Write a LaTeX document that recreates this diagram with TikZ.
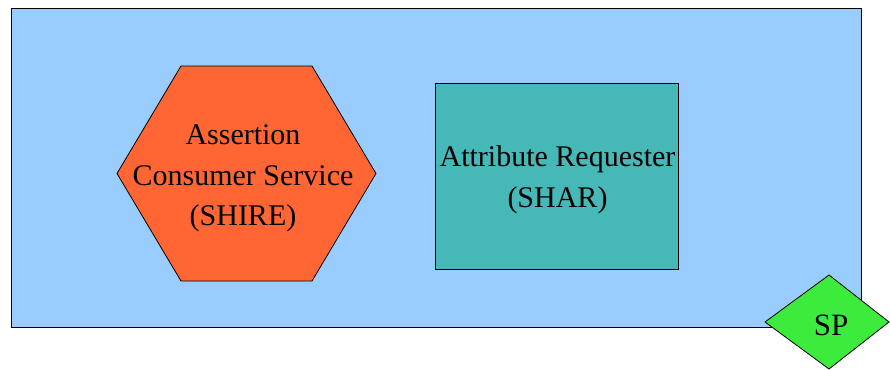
\documentclass[tikz,border=0pt]{standalone}
\usepackage{fontspec}
\setmainfont{Liberation Serif}
\usetikzlibrary{shapes.geometric}
\definecolor{bgblue}{HTML}{99CCFF}
\definecolor{hexorange}{HTML}{FF6633}
\definecolor{tealbox}{HTML}{47B8B8}
\definecolor{spgreen}{HTML}{3DEB3D}
\tikzset{
  outline/.style={draw=black, line width=0.8pt},
  lbl/.style={font=\fontsize{30}{40.5}\selectfont, align=center, inner sep=0pt},
}
\begin{document}
\begin{tikzpicture}[x=1pt, y=-1pt]
\useasboundingbox (0,0) rectangle (890,369);
\begin{scope}
\clip (0,0) rectangle (890,369);
% outer box
\node[outline, fill=bgblue, rectangle, anchor=north west, minimum width=850pt, minimum height=319pt, inner sep=0pt] (frame) at (11,8) {};
% hexagon
\draw[outline, fill=hexorange] (181,66) -- (312,66) -- (376,173.5) -- (312,281) -- (181,281) -- (117,173.5) -- cycle;
\node[lbl] (acs) at (243,178.5) {Assertion\\Consumer Service\\(SHIRE)};
% SHAR box
\node[outline, fill=tealbox, rectangle, minimum width=243pt, minimum height=186pt, inner sep=0pt] (shar) at (556.5,176) {};
\node[lbl] (sharlbl) at (557.5,180) {Attribute Requester\\(SHAR)};
% SP diamond
\draw[outline, fill=spgreen] (829,275) -- (889,322) -- (829,369) -- (765,322) -- cycle;
\node[lbl, font=\fontsize{31}{36}\selectfont] (sp) at (831,325.5) {SP};
\end{scope}
\end{tikzpicture}
\end{document}
